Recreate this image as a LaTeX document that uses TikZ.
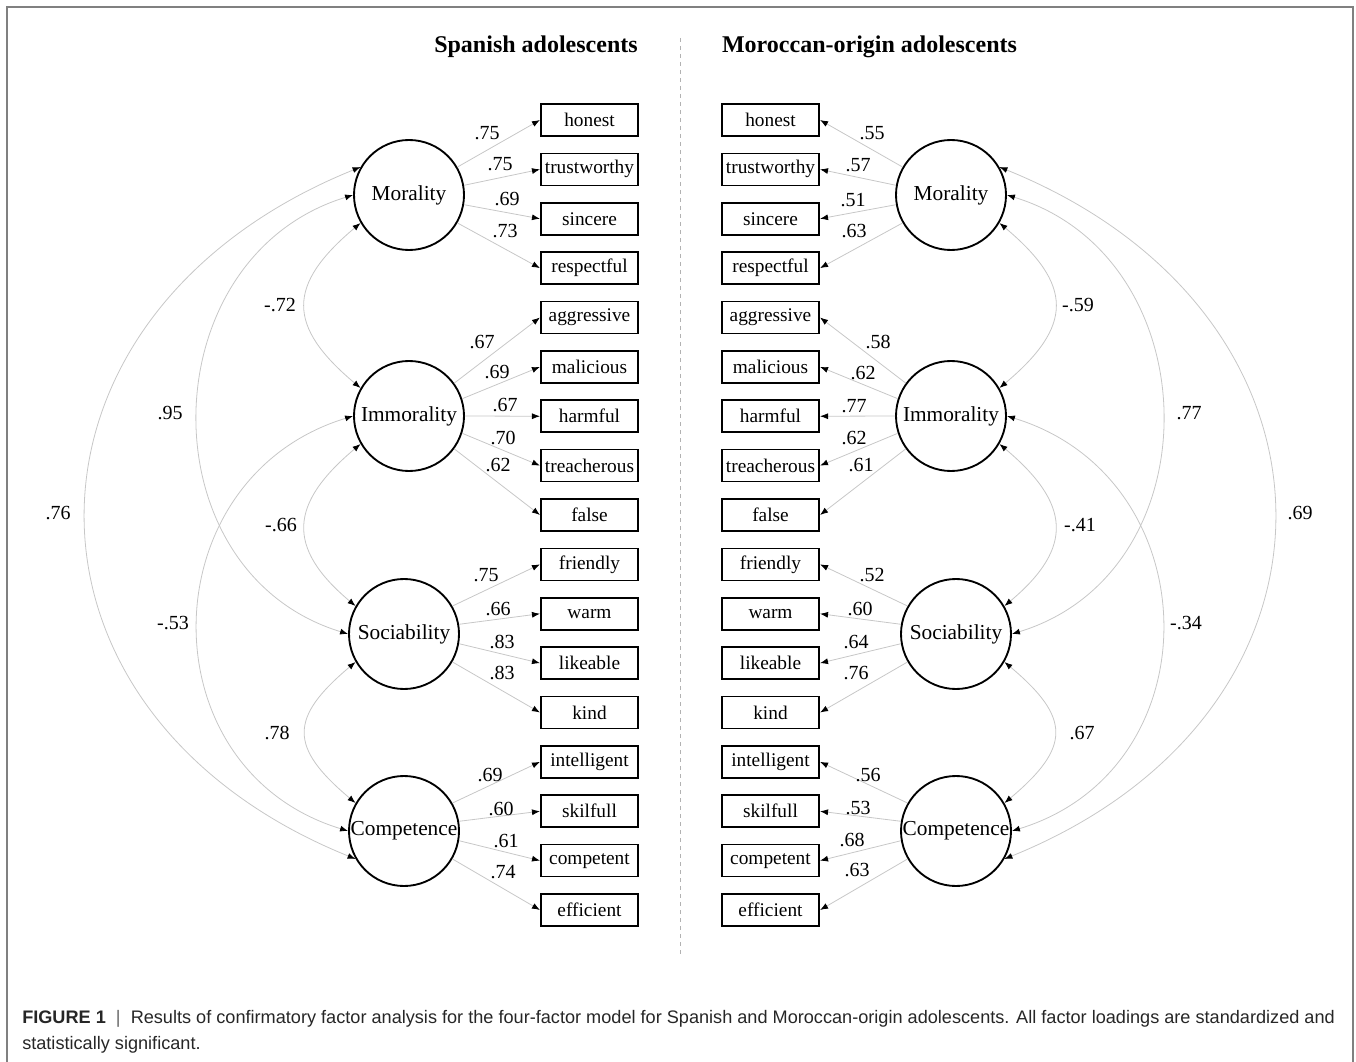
\documentclass[tikz,border=0pt]{standalone}
\usepackage{fontspec}
\setmainfont{Liberation Serif}
\newfontfamily\capfont{Liberation Sans}
\usetikzlibrary{arrows.meta}
\begin{document}
\begin{tikzpicture}[x=0.75pt,y=-0.75pt,
  itembox/.style={draw, line width=1.3pt, minimum width=73pt, minimum height=24pt, inner sep=0pt, font=\fontsize{14.5}{16}\selectfont},
  latent/.style={circle, draw, line width=1.4pt, minimum size=82.5pt, inner sep=0pt, font=\fontsize{16}{18}\selectfont},
  coef/.style={inner sep=0pt, font=\fontsize{15}{17}\selectfont},
  tip/.tip={Latex[length=6pt,width=4.5pt,color=black]},
  load/.style={draw=black!22, line width=0.6pt, -tip},
  cov/.style={draw=black!22, line width=0.6pt, tip-tip},
  ttl/.style={font=\fontsize{18}{20}\selectfont\bfseries},
  captxt/.style={anchor=west, inner sep=0pt, text=black!85, font=\capfont\fontsize{13.6}{16}\selectfont}]
\useasboundingbox (0,0) rectangle (1356,1062);
% frame
\draw[black!50, line width=1.2pt] (7,1062) -- (7,7) -- (1353,7) -- (1353,1062);
% titles and divider
\node[ttl] (t1) at (536,47) {Spanish adolescents};
\node[ttl] (t2) at (869.5,47) {Moroccan-origin adolescents};
\coordinate (d1) at (680,38);
\coordinate (d2) at (680,956);
\draw[black!30, dashed, line width=0.6pt] (d1) -- (d2);
% item boxes
\foreach \w [count=\i] in {honest,trustworthy,sincere,respectful,aggressive,malicious,harmful,treacherous,false,friendly,warm,likeable,kind,intelligent,skilfull,competent,efficient}{
  \node[itembox] (L\i) at (589.5,{120+49.375*(\i-1)}) {\w};
  \node[itembox] (R\i) at (770.5,{120+49.375*(\i-1)}) {\w};
}
% latent factors
\node[latent] (LM) at (409,195) {Morality};
\node[latent] (LI) at (409,416) {Immorality};
\node[latent] (LS) at (404,634) {Sociability};
\node[latent] (LC) at (404,831) {Competence};
\node[latent] (RM) at (951,195) {Morality};
\node[latent] (RI) at (951,416) {Immorality};
\node[latent] (RS) at (956,634) {Sociability};
\node[latent] (RC) at (956,831) {Competence};
% loadings left
\foreach \b/\a in {1/30,2/10,3/350,4/330} \draw[load] (LM.\a) -- (L\b.west);
\foreach \b/\a in {5/36,6/18,7/0,8/342,9/324} \draw[load] (LI.\a) -- (L\b.west);
\foreach \b/\a in {10/30,11/10,12/350,13/330} \draw[load] (LS.\a) -- (L\b.west);
\foreach \b/\a in {14/30,15/10,16/350,17/330} \draw[load] (LC.\a) -- (L\b.west);
% loadings right
\foreach \b/\a in {1/150,2/170,3/190,4/210} \draw[load] (RM.\a) -- (R\b.east);
\foreach \b/\a in {5/144,6/162,7/180,8/198,9/216} \draw[load] (RI.\a) -- (R\b.east);
\foreach \b/\a in {10/150,11/170,12/190,13/210} \draw[load] (RS.\a) -- (R\b.east);
\foreach \b/\a in {14/150,15/170,16/190,17/210} \draw[load] (RC.\a) -- (R\b.east);
% loading coefficients left
\foreach \x/\y/\t [count=\k] in {487/133/.75,500/164/.75,507/199/.69,505/231/.73,
  482/342/.67,497/372/.69,505/405/.67,503/438/.70,498/465/.62,
  486/575/.75,498/609/.66,502/642/.83,502/673/.83,
  490/775/.69,501/809/.60,506/841/.61,503/872/.74}
  \node[coef] (lc\k) at (\x,\y) {\t};
% loading coefficients right
\foreach \x/\y/\t [count=\k] in {872/133/.55,858/165/.57,853/200/.51,854/231/.63,
  878/342/.58,863/373/.62,854/406/.77,854/438/.62,861/465/.61,
  872/575/.52,860/609/.60,856/642/.64,856/673/.76,
  868/775/.56,858/808/.53,852/840/.68,857/870/.63}
  \node[coef] (rc\k) at (\x,\y) {\t};
% covariances left
\draw[cov] (LM.210) to[out=220,in=140,looseness=1.5] (LI.150);
\draw[cov] (LI.210) to[out=220,in=140,looseness=1.45] (LS.150);
\draw[cov] (LS.210) to[out=220,in=140,looseness=1.58] (LC.150);
\draw[cov] (LM.180) to[out=197,in=163,looseness=1.24] (LS.180);
\draw[cov] (LI.180) to[out=197,in=163,looseness=1.31] (LC.180);
\draw[cov] (LM.150) to[out=202,in=158,looseness=1.445] (LC.210);
% covariances right
\draw[cov] (RM.330) to[out=320,in=40,looseness=1.5] (RI.30);
\draw[cov] (RI.330) to[out=320,in=40,looseness=1.45] (RS.30);
\draw[cov] (RS.330) to[out=320,in=40,looseness=1.58] (RC.30);
\draw[cov] (RM.0) to[out=343,in=17,looseness=1.24] (RS.0);
\draw[cov] (RI.0) to[out=343,in=17,looseness=1.31] (RC.0);
\draw[cov] (RM.30) to[out=338,in=22,looseness=1.445] (RC.330);
% covariance coefficients
\node[coef] (k1) at (280,305) {-.72};
\node[coef] (k2) at (170,413) {.95};
\node[coef] (k3) at (58,513) {.76};
\node[coef] (k4) at (281,525) {-.66};
\node[coef] (k5) at (173,623) {-.53};
\node[coef] (k6) at (277,733) {.78};
\node[coef] (k7) at (1078,305) {-.59};
\node[coef] (k8) at (1189,413) {.77};
\node[coef] (k9) at (1300,513) {.69};
\node[coef] (k10) at (1080,525) {-.41};
\node[coef] (k11) at (1186,623) {-.34};
\node[coef] (k12) at (1082,733) {.67};
% caption
\node[captxt] (cap1) at (22,1019)
  {\textbf{FIGURE 1}\ \ {\color{black!60}|}\ \ Results of confirmatory factor analysis for the four-factor model for Spanish and Moroccan-origin adolescents. All factor loadings are standardized and};
\node[captxt] (cap2) at (22,1045) {statistically significant.};
\end{tikzpicture}
\end{document}
